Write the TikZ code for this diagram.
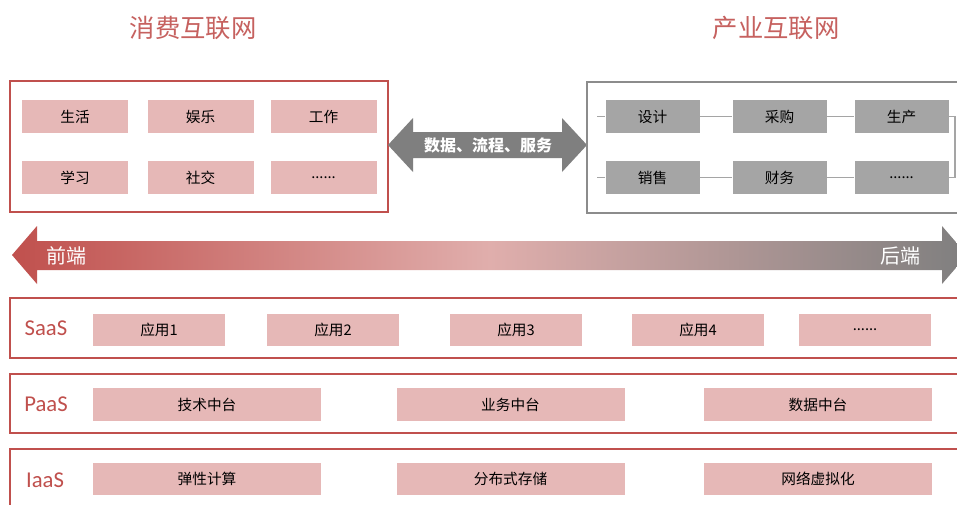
\documentclass[tikz,border=0pt]{standalone}
\usepackage{fontspec}
\usepackage{tikz}
\usetikzlibrary{shapes.geometric, arrows}
\usetikzlibrary{calc,shapes}
\usetikzlibrary{positioning}
\newfontfamily\cjk{Noto Sans CJK SC}
\newfontfamily\layerfont{Carlito}
\newcommand{\etcdots}{......}
\definecolor{hlred}{RGB}{192,80,77}
\definecolor{hlpink}{RGB}{230,184,183}
\definecolor{hlmid}{RGB}{224,174,172}
\definecolor{hlgray}{RGB}{165,165,165}
\definecolor{hldark}{RGB}{127,127,127}
\pgfdeclarehorizontalshading{frontback}{100bp}{color(0bp)=(hlred); color(25bp)=(hlred); color(50bp)=(hlmid); color(75bp)=(hldark); color(100bp)=(hldark)}
\tikzset{
  pinkbox/.style={fill=hlpink, minimum width=106*0.75pt, minimum height=33*0.75pt, inner sep=0pt, font=\cjk\fontsize{11}{12}\selectfont},
  graybox/.style={fill=hlgray, minimum width=94*0.75pt, minimum height=33*0.75pt, inner sep=0pt, font=\cjk\fontsize{11}{12}\selectfont},
  layerbox/.style={draw=hlred, line width=2.2pt},
  layerlabel/.style={text=hlred, font=\layerfont\fontsize{17}{18}\selectfont, inner sep=0pt},
  link/.style={draw=hlgray, line width=1.4pt}
}
\begin{document}
\begin{tikzpicture}[x=0.75pt,y=0.75pt,yscale=-1,xscale=1]
  \clip (0,0) rectangle (957,504);
  \fill[white] (0,0) rectangle (957,504);

  % titles
  \node[text=hlred!90, font=\cjk\fontsize{19}{20}\selectfont] (consumer) at (193,28) {消费互联网};
  \node[text=hlred!90, font=\cjk\fontsize{19}{20}\selectfont] (industry) at (776,28) {产业互联网};

  % consumer side
  \draw[draw=hlred, line width=1.8pt] (10,81) rectangle (388,212);
  \foreach \x/\t/\n in {75/生活/life, 200.5/娱乐/fun, 323.5/工作/work}
    \node[pinkbox] (\n) at (\x,116.5) {\t};
  \foreach \x/\t/\n in {75/学习/study, 200.5/社交/social, 323.5/\etcdots/cmore}
    \node[pinkbox] (\n) at (\x,177.5) {\t};

  % exchange arrow
  \fill[hldark] (388,145) -- (413,118) -- (413,132) -- (562,132) -- (562,118) -- (587,145)
    -- (562,172) -- (562,158) -- (413,158) -- (413,172) -- cycle;
  \node[text=white, font=\cjk\bfseries\fontsize{12}{13}\selectfont] (flow) at (488,145) {数据、流程、服务};

  % industry side
  \draw[draw=hldark!90, line width=1.6pt] (587,82) rectangle (975,213);
  \foreach \x/\t/\n in {652.5/设计/design, 779.5/采购/buy, 901.5/生产/make}
    \node[graybox] (\n) at (\x,116.5) {\t};
  \foreach \x/\t/\n in {652.5/销售/sell, 779.5/财务/finance, 901.5/\etcdots/imore}
    \node[graybox] (\n) at (\x,177.5) {\t};
  \coordinate (in1) at (597,116.5);
  \coordinate (in2) at (597,177.5);
  \draw[link] (in1) -- (design);
  \draw[link] (design) -- (buy);
  \draw[link] (buy) -- (make);
  \draw[link] (make.east) -- ++(6,0) |- (imore.east);
  \draw[link] (imore) -- (finance);
  \draw[link] (finance) -- (sell);
  \draw[link] (sell) -- (in2);

  % front end / back end
  \shade[shading=frontback]
    (12,255) -- (37,226) -- (37,241) -- (942,241) -- (942,226) -- (967,255)
    -- (942,284) -- (942,270) -- (37,270) -- (37,284) -- cycle;
  \node[text=white, font=\cjk\fontsize{15}{16}\selectfont] (front) at (66,256) {前端};
  \node[text=white, font=\cjk\fontsize{15}{16}\selectfont] (back) at (900,256) {后端};

  % SaaS
  \draw[layerbox] (10,298) rectangle (980,358);
  \node[layerlabel] (saas) at (46,328) {SaaS};
  \foreach \x/\t/\n in {159/应用1/app1, 333/应用2/app2, 516/应用3/app3, 698/应用4/app4, 865/\etcdots/amore}
    \node[pinkbox, minimum width=132*0.75pt, minimum height=32*0.75pt] (\n) at (\x,330) {\t};

  % PaaS
  \draw[layerbox] (10,374) rectangle (980,433);
  \node[layerlabel] (paas) at (46,404) {PaaS};
  \foreach \x/\t/\n in {207/技术中台/tech, 510.5/业务中台/biz, 818/数据中台/data}
    \node[pinkbox, minimum width=228*0.75pt] (\n) at (\x,404.5) {\t};

  % IaaS
  \draw[layerbox] (10,449) rectangle (980,530);
  \node[layerlabel] (iaas) at (45,480) {IaaS};
  \foreach \x/\t/\n in {207/弹性计算/compute, 510.5/分布式存储/storage, 818/网络虚拟化/network}
    \node[pinkbox, minimum width=228*0.75pt, minimum height=32*0.75pt] (\n) at (\x,479) {\t};
\end{tikzpicture}
\end{document}
